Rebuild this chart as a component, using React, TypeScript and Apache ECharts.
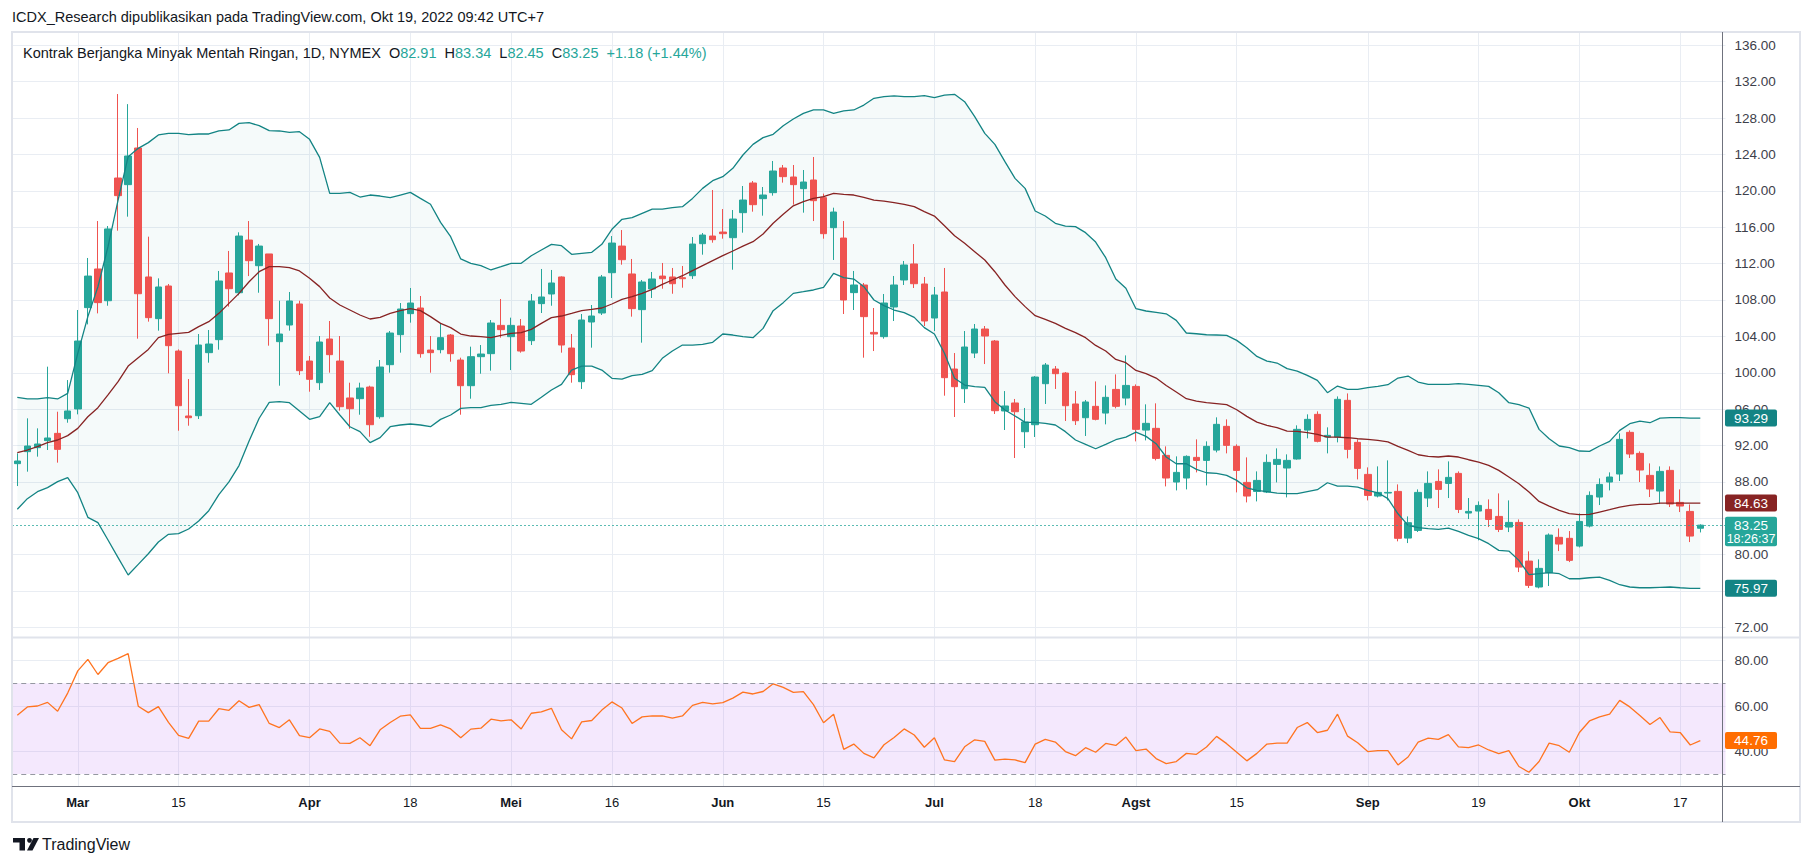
import React, { useEffect, useRef } from "react";
import * as echarts from "echarts";

// ---------------- data ----------------
const opens = [
  90.01, 91.33, 91.77, 92.54, 93.34, 94.95, 96.02, 107.16, 111.41, 107.92,
  121.41, 120.68, 124.71, 110.53, 105.95, 109.54, 102.39, 95.25, 95.28, 102.21,
  103.64, 110.97, 108.8, 114.59, 111.77, 113.06, 103.42, 105.25, 107.56, 101.29,
  98.91, 103.71, 101.29, 97.23, 97.15, 98.43, 95.17, 100.89, 104.19, 106.5,
  107.12, 102.5, 102.54, 104.15, 101.4, 98.58, 101.77, 102.1, 105.21, 103.97,
  105.14, 103.53, 107.6, 108.66, 110.53, 102.72, 99.02, 105.58, 106.57, 111.0,
  113.93, 110.86, 106.94, 109.21, 110.63, 110.53, 110.45, 110.67, 114.19, 115.03,
  115.47, 114.85, 117.6, 120.86, 119.14, 119.8, 122.51, 121.52, 120.24, 121.19,
  119.25, 115.95, 114.81, 108.81, 109.65, 104.44, 103.97, 107.23, 110.2, 111.96,
  109.76, 106.02, 108.88, 100.41, 98.25, 102.17, 104.81, 103.49, 95.8, 96.68,
  93.52, 94.29, 98.8, 100.41, 99.97, 96.57, 95.06, 96.31, 95.57, 98.17,
  97.22, 98.5, 93.7, 93.89, 90.92, 87.99, 88.43, 90.7, 90.37, 91.5,
  94.11, 91.91, 87.95, 86.96, 86.89, 89.93, 89.53, 90.52, 93.7, 95.43,
  92.93, 92.93, 96.97, 92.35, 88.83, 86.45, 86.78, 86.96, 81.83, 82.67,
  86.23, 88.06, 87.84, 88.94, 84.58, 84.8, 84.98, 84.21, 83.04, 83.55,
  79.3, 76.45, 78.02, 81.91, 81.8, 80.95, 83.15, 86.34, 87.99, 88.87,
  93.45, 91.14, 88.72, 87.0, 89.27, 85.75, 84.76, 82.91,
];
const highs = [
  91.14, 94.99, 93.89, 100.67, 95.72, 99.2, 106.9, 112.62, 116.68, 116.13,
  130.64, 129.53, 126.91, 114.96, 110.38, 109.76, 102.57, 99.31, 104.26, 104.7,
  111.19, 113.39, 115.44, 116.68, 114.16, 113.06, 107.92, 108.88, 107.92, 101.84,
  104.04, 105.69, 104.04, 98.91, 98.91, 98.58, 101.4, 104.59, 107.67, 109.32,
  108.44, 104.04, 105.43, 104.26, 101.66, 102.87, 103.05, 105.8, 108.11, 106.06,
  105.91, 108.66, 111.41, 111.3, 110.6, 104.26, 106.46, 107.45, 110.75, 115.03,
  115.69, 112.51, 110.2, 111.08, 112.07, 111.52, 111.74, 114.92, 115.36, 120.09,
  118.0, 117.89, 120.53, 121.08, 120.42, 123.28, 122.84, 122.84, 122.29, 123.72,
  119.69, 118.15, 116.68, 111.19, 109.87, 107.12, 108.66, 110.64, 112.29, 114.15,
  110.53, 109.43, 111.52, 102.17, 104.59, 105.36, 105.14, 103.6, 97.99, 97.12,
  96.13, 99.64, 101.07, 100.74, 100.08, 97.99, 97.01, 99.05, 98.61, 99.82,
  101.91, 98.72, 96.53, 96.64, 91.91, 90.81, 90.92, 92.68, 92.46, 95.1,
  94.88, 92.13, 90.7, 89.16, 91.03, 91.69, 91.03, 94.22, 95.43, 95.76,
  94.0, 97.4, 97.73, 92.68, 89.6, 89.71, 90.37, 87.73, 84.21, 87.18,
  89.16, 89.38, 90.26, 89.16, 86.23, 85.86, 86.08, 86.74, 85.97, 83.88,
  80.37, 79.49, 82.34, 82.89, 82.6, 84.54, 86.96, 88.39, 89.05, 93.34,
  93.67, 91.36, 90.04, 89.71, 89.71, 87.18, 85.53, 83.34,
];
const lows = [
  87.55, 89.13, 90.78, 91.51, 90.12, 94.51, 95.43, 105.32, 106.53, 107.37,
  115.62, 117.16, 103.75, 105.62, 104.63, 99.94, 93.63, 94.18, 94.92, 101.11,
  102.54, 107.27, 108.51, 110.63, 108.8, 102.98, 98.58, 104.63, 99.75, 97.92,
  98.11, 100.01, 95.83, 93.85, 95.39, 92.97, 94.95, 100.01, 102.21, 105.51,
  101.66, 100.01, 102.14, 101.22, 95.39, 97.15, 99.9, 100.23, 103.86, 100.3,
  102.21, 103.05, 106.57, 107.37, 102.21, 98.91, 98.22, 102.76, 106.35, 108.22,
  111.88, 106.17, 103.31, 108.22, 109.24, 108.69, 109.35, 110.31, 112.98, 114.3,
  114.74, 111.33, 115.4, 117.71, 117.27, 119.47, 120.9, 118.48, 117.6, 116.68,
  114.74, 112.4, 106.46, 106.9, 101.66, 102.39, 103.75, 105.69, 109.65, 109.32,
  105.14, 104.59, 97.48, 95.14, 96.68, 101.62, 100.96, 95.47, 93.71, 90.63,
  91.73, 92.94, 96.57, 98.22, 94.7, 94.26, 93.05, 94.77, 94.33, 96.09,
  96.42, 92.46, 92.57, 90.37, 87.51, 87.07, 87.18, 89.05, 87.62, 91.25,
  91.14, 86.85, 85.75, 85.86, 86.78, 87.95, 86.3, 90.45, 92.79, 92.35,
  91.14, 92.35, 90.59, 88.28, 85.97, 86.3, 85.97, 81.47, 81.28, 82.5,
  85.24, 85.13, 86.23, 84.58, 83.92, 81.58, 83.04, 82.49, 82.49, 78.09,
  76.34, 76.3, 76.56, 80.4, 79.19, 80.8, 83.0, 85.46, 87.07, 88.1,
  90.63, 87.99, 86.34, 85.57, 85.24, 84.69, 81.39, 82.45,
];
const closes = [
  90.3, 91.95, 92.17, 92.83, 91.58, 95.8, 103.49, 110.63, 107.71, 115.81,
  119.47, 123.83, 108.69, 106.06, 109.43, 102.98, 96.38, 95.06, 103.05, 103.16,
  110.09, 109.24, 115.03, 112.32, 113.93, 105.95, 104.26, 107.89, 100.23, 99.28,
  103.38, 101.99, 96.27, 96.05, 98.32, 94.29, 100.63, 104.37, 107.01, 107.67,
  102.1, 102.21, 103.86, 102.1, 98.58, 101.77, 102.06, 105.47, 104.74, 105.21,
  102.39, 107.89, 108.33, 109.87, 103.05, 99.79, 105.8, 106.24, 110.53, 114.26,
  112.43, 107.05, 109.98, 110.31, 110.34, 109.79, 110.34, 114.15, 115.14, 114.63,
  115.29, 116.9, 118.99, 118.48, 119.54, 122.18, 121.56, 120.68, 120.97, 118.92,
  115.29, 117.67, 108.0, 109.65, 106.17, 104.26, 107.67, 109.65, 111.85, 109.79,
  105.69, 108.55, 99.46, 98.47, 102.83, 104.81, 104.04, 95.83, 96.35, 95.72,
  94.59, 99.53, 100.85, 99.9, 96.38, 94.73, 96.79, 94.88, 97.3, 96.31,
  98.61, 93.78, 94.44, 90.59, 88.43, 89.05, 90.81, 90.37, 91.91, 94.33,
  92.02, 89.27, 86.45, 88.17, 90.15, 90.48, 90.37, 93.78, 94.88, 92.46,
  93.12, 97.08, 91.58, 89.49, 86.52, 86.85, 86.85, 81.8, 83.52, 86.85,
  87.84, 87.18, 88.5, 84.98, 84.76, 85.42, 83.88, 82.78, 83.55, 78.64,
  76.63, 78.5, 82.16, 81.17, 79.38, 83.66, 86.52, 87.73, 88.54, 92.68,
  91.07, 89.31, 87.22, 89.16, 85.57, 85.35, 82.05, 83.25,
];
const bbUpper = [
  97.3, 97.12, 97.12, 97.26, 97.12, 97.74, 102.14, 106.17, 109.46, 113.86,
  118.99, 123.76, 124.67, 125.3, 126.14, 126.32, 126.32, 126.17, 126.25, 126.25,
  126.58, 126.69, 127.42, 127.49, 127.16, 126.61, 126.58, 126.43, 126.5, 125.66,
  123.68, 119.72, 119.72, 119.83, 119.32, 119.54, 119.43, 119.25, 119.54, 119.83,
  119.17, 118.52, 116.54, 114.96, 112.51, 112.03, 111.77, 111.3, 111.66, 112.03,
  112.03, 112.87, 113.5, 114.12, 113.97, 113.02, 113.13, 113.24, 114.12, 115.77,
  116.87, 117.05, 117.53, 118.0, 118.0, 118.15, 118.26, 119.17, 120.27, 121.12,
  121.56, 122.47, 123.94, 125.11, 125.85, 126.21, 127.16, 127.9, 128.52, 128.89,
  128.89, 128.52, 128.78, 128.89, 129.43, 130.17, 130.35, 130.43, 130.35, 130.35,
  130.46, 130.24, 130.53, 130.61, 129.8, 128.15, 126.32, 125.11, 123.21, 121.37,
  120.27, 117.78, 117.23, 116.43, 116.13, 116.06, 115.4, 114.37, 112.65, 110.3,
  109.29, 107.04, 106.79, 106.64, 106.48, 105.76, 104.37, 104.29, 104.18, 104.15,
  104.11, 103.56, 102.75, 101.8, 101.29, 101.07, 100.45, 100.19, 99.71, 99.16,
  97.81, 98.54, 98.17, 98.17, 98.36, 98.5, 98.69, 99.42, 99.64, 98.98,
  98.72, 98.72, 98.72, 98.8, 98.72, 98.61, 98.5, 97.81, 96.71, 96.49,
  96.12, 93.78, 92.75, 91.95, 91.76, 91.4, 91.36, 91.95, 92.46, 93.67,
  94.4, 94.69, 94.51, 95.02, 95.06, 95.06, 95.02, 95.02,
];
const bbBasis = [
  91.22, 91.51, 91.88, 92.32, 92.61, 93.09, 93.89, 95.17, 96.16, 97.56,
  99.02, 100.74, 101.66, 102.57, 103.86, 104.22, 104.33, 104.44, 105.07, 105.62,
  106.53, 107.63, 108.73, 110.01, 111.11, 111.66, 111.66, 111.55, 111.19, 110.38,
  109.47, 108.22, 107.45, 106.9, 106.35, 105.91, 106.09, 106.53, 106.83, 107.05,
  106.83, 106.17, 105.43, 104.96, 104.26, 104.04, 103.97, 103.86, 104.11, 104.33,
  104.41, 104.77, 105.43, 106.06, 106.24, 106.53, 106.83, 106.97, 107.12, 107.56,
  108.07, 108.37, 108.73, 109.17, 109.72, 110.2, 110.67, 111.22, 111.77, 112.32,
  112.87, 113.39, 113.93, 114.41, 115.25, 116.43, 117.42, 118.35, 118.81, 119.18,
  119.36, 119.72, 119.61, 119.54, 119.29, 118.99, 118.88, 118.7, 118.52, 118.26,
  117.71, 117.23, 116.17, 115.07, 114.23, 113.31, 112.4, 111.11, 109.65, 108.37,
  107.27, 106.28, 105.87, 105.43, 104.88, 104.41, 103.86, 103.01, 102.39, 101.47,
  101.11, 100.26, 99.9, 99.42, 98.61, 97.88, 97.15, 96.89, 96.71, 96.6,
  96.49, 95.94, 95.21, 94.58, 94.22, 93.96, 93.59, 93.56, 93.41, 93.23,
  92.93, 92.93, 92.86, 92.75, 92.68, 92.57, 92.41, 91.9, 91.47, 90.99,
  90.81, 90.74, 90.85, 90.74, 90.44, 90.19, 89.82, 89.27, 88.54, 87.8,
  86.89, 85.86, 85.35, 84.87, 84.51, 84.4, 84.43, 84.69, 84.95, 85.24,
  85.42, 85.53, 85.53, 85.68, 85.68, 85.68, 85.68, 85.68,
];
const bbLower = [
  84.99, 86.16, 86.93, 87.37, 88.03, 88.47, 86.82, 84.11, 83.52, 81.62,
  79.68, 77.77, 78.94, 80.11, 81.4, 82.24, 82.31, 82.83, 83.71, 84.84,
  86.6, 88.0, 89.8, 92.5, 95.0, 96.75, 96.82, 96.71, 95.8, 94.88,
  95.17, 96.71, 95.36, 94.07, 93.53, 92.32, 92.87, 94.07, 94.26, 94.37,
  94.26, 94.07, 94.88, 95.36, 96.09, 96.16, 96.16, 96.42, 96.53, 96.75,
  96.64, 96.53, 97.3, 98.11, 98.73, 100.3, 100.74, 100.74, 100.3, 99.39,
  99.31, 99.68, 99.83, 100.23, 101.59, 102.39, 103.05, 103.05, 103.13, 103.35,
  104.26, 104.15, 103.97, 103.86, 104.88, 106.83, 107.71, 108.73, 108.91, 109.1,
  109.39, 110.93, 110.45, 110.3, 109.46, 108.0, 107.38, 106.9, 106.61, 106.09,
  104.96, 104.26, 102.14, 99.39, 98.65, 98.47, 98.4, 96.82, 95.91, 95.25,
  94.55, 94.55, 94.44, 94.26, 93.53, 92.61, 92.13, 91.65, 92.13, 92.64,
  92.93, 93.48, 93.01, 92.2, 90.74, 90.0, 90.0, 89.38, 89.01, 88.94,
  88.72, 88.17, 87.36, 87.07, 86.93, 86.78, 86.71, 86.71, 86.93, 87.15,
  87.91, 87.55, 87.55, 87.44, 87.07, 86.81, 86.16, 84.5, 83.22, 82.97,
  82.86, 82.78, 82.93, 82.56, 82.12, 81.76, 81.21, 80.48, 80.4, 79.38,
  77.8, 77.91, 78.02, 77.91, 77.36, 77.36, 77.47, 77.54, 77.18, 76.7,
  76.45, 76.37, 76.37, 76.41, 76.45, 76.37, 76.3, 76.3,
];
const rsiValues = [
  55.9, 59.6, 60.0, 61.6, 57.7, 65.7, 75.5, 80.6, 73.9, 79.1,
  81.0, 83.1, 59.9, 57.1, 59.7, 52.8, 47.0, 45.7, 53.3, 53.3,
  58.8, 58.1, 62.3, 59.4, 60.6, 52.3, 50.5, 53.9, 46.9, 46.0,
  49.9, 48.8, 43.6, 43.5, 46.0, 42.5, 49.5, 52.7, 55.5, 56.1,
  50.1, 50.1, 51.7, 49.9, 46.0, 49.8, 50.2, 54.2, 53.4, 53.9,
  49.9, 56.8, 57.4, 59.0, 49.5, 45.5, 53.0, 53.6, 58.2, 61.8,
  59.1, 52.3, 55.2, 55.6, 55.6, 54.7, 55.6, 60.3, 61.6, 60.9,
  61.5, 63.5, 66.1, 65.3, 66.4, 69.8, 68.2, 66.0, 66.3, 60.6,
  52.6, 56.4, 40.9, 43.2, 39.1, 37.1, 42.9, 46.1, 49.9, 47.2,
  41.8, 46.0, 36.2, 35.5, 42.0, 45.1, 44.4, 36.1, 36.6, 36.2,
  35.0, 43.2, 45.3, 44.1, 39.9, 38.1, 41.6, 39.6, 43.5, 42.6,
  46.3, 40.3, 41.0, 36.8, 34.6, 35.5, 39.1, 38.7, 41.9, 46.6,
  43.4, 39.6, 35.8, 39.1, 43.2, 43.6, 43.6, 50.5, 52.7, 48.3,
  49.3, 56.4, 46.7, 43.8, 39.9, 40.3, 40.3, 34.0, 37.5, 44.1,
  45.8, 45.3, 47.4, 42.0, 41.6, 42.8, 40.6, 39.0, 40.3, 33.3,
  30.8, 35.5, 43.6, 42.5, 39.6, 48.3, 53.4, 55.2, 56.4, 62.5,
  59.6, 55.8, 51.8, 54.9, 48.6, 48.3, 42.8, 44.76,
];

// axis ticks
const priceAxisMin = 72;
const priceAxisMax = 136;
const priceAxisStep = 4;
const rsiAxisMin = 40;
const rsiAxisMax = 80;
const rsiAxisStep = 20;
const rsiBandHigh = 70;
const rsiBandLow = 30;

// time axis labels (bar index -> text)
const timeTickIndex = [6, 16, 29, 39, 49, 59, 70, 80, 91, 101, 111, 121, 134, 145, 155, 165];
const timeTickText = ["Mar", "15", "Apr", "18", "Mei", "16", "Jun", "15", "Jul", "18", "Agst", "15", "Sep", "19", "Okt", "17"];
const monthNames = ["Mar", "Apr", "Mei", "Jun", "Jul", "Agst", "Sep", "Okt"];

// texts
const headerLine = "ICDX_Research dipublikasikan pada TradingView.com, Okt 19, 2022 09:42 UTC+7";
const symbolTitle = "Kontrak Berjangka Minyak Mentah Ringan, 1D, NYMEX";
const ohlcLegend = { o: "82.91", h: "83.34", l: "82.45", c: "83.25", change: "+1.18 (+1.44%)" };
const lastValueLabels = {
  bbUpper: "93.29",
  bbBasis: "84.63",
  bbLower: "75.97",
  close: "83.25",
  countdown: "18:26:37",
  rsi: "44.76",
};

// ---------------- layout / style ----------------
const W = 1813;
const H = 866;
const FONT = "'Liberation Sans', Arial, sans-serif";
const BAR = 10.078;
const SLOT_COUNT = 170; // bars + empty right margin
const PLOT_LEFT = 12.26;
const PLOT_W = SLOT_COUNT * BAR;
const PX_PER_PRICE = 9.097;
const Y_AT_132 = 81.67;
const MAIN_TOP = Y_AT_132 - (priceAxisMax - 132) * PX_PER_PRICE;
const MAIN_H = (priceAxisMax - priceAxisMin) * PX_PER_PRICE;
const RSI_PX = 2.2667;
const RSI_Y80 = 660.67;
const RSI_TOP = RSI_Y80 - (rsiAxisMax - 80) * RSI_PX;
const RSI_H = (rsiAxisMax - rsiAxisMin) * RSI_PX;
const FRAME_TOP = 32;
const FRAME_LEFT = 12;
const FRAME_RIGHT = 1800;
const FRAME_BOTTOM = 822;
const PANE_SEP_Y = 637;
const TIME_AXIS_Y = 786;
const SCALE_X = 1722;
const RSI_PANE_MAX = 80 + (RSI_Y80 - PANE_SEP_Y) / RSI_PX;
const RSI_PANE_MIN = 40 - (TIME_AXIS_Y - (RSI_Y80 + 40 * RSI_PX)) / RSI_PX;
const BOX_X = 1725;
const BOX_W = 52;

const GRID_COLOR = "#e9edf3";
const TEXT = "#131722";
const SCALE_TEXT = "#3d404a";
const UP = "#26a69a";
const DOWN = "#ef5350";
const BB_EDGE = "#138484";
const BB_MID = "#872323";
const RSI_COLOR = "#ff7420";

const CATS = Array.from({ length: SLOT_COUNT }, (_, i) => String(i));

function buildOption(): any {
  const candleData = opens.map((o, i) => [o, closes[i], lows[i], highs[i]]);
  const bandWidthData = bbUpper.map((u, i) => +(u - bbLower[i]).toFixed(2));
  const showTick = (i: number) => timeTickIndex.indexOf(i) >= 0;
  const hiddenX = (g: number) => ({ gridIndex: g, type: "category", data: CATS, boundaryGap: true, show: false });
  const scaleLabel = {
    margin: 9,
    color: SCALE_TEXT,
    fontSize: 13.5,
    fontFamily: FONT,
    showMinLabel: true,
    showMaxLabel: true,
    formatter: (v: number) => v.toFixed(2),
  };
  return {
    animation: false,
    backgroundColor: "#ffffff",
    title: [
      {
        text: headerLine,
        left: 12,
        top: 8,
        padding: 0,
        textStyle: { color: TEXT, fontSize: 14.5, fontWeight: "normal", fontFamily: FONT, lineHeight: 18 },
      },
      {
        text:
          `{t|${symbolTitle}  O}{v|${ohlcLegend.o}}{t|  H}{v|${ohlcLegend.h}}{t|  L}{v|${ohlcLegend.l}}` +
          `{t|  C}{v|${ohlcLegend.c}}{v|  ${ohlcLegend.change}}`,
        left: 23,
        top: 44,
        padding: 0,
        textStyle: {
          fontSize: 14.5,
          fontWeight: "normal",
          fontFamily: FONT,
          lineHeight: 18,
          rich: {
            t: { color: TEXT, fontSize: 14.5, fontWeight: "normal", fontFamily: FONT, lineHeight: 18 },
            v: { color: UP, fontSize: 14.5, fontWeight: "normal", fontFamily: FONT, lineHeight: 18 },
          },
        },
      },
    ],
    grid: [
      { left: PLOT_LEFT + BAR / 2, width: (SLOT_COUNT - 1) * BAR, top: FRAME_TOP, height: TIME_AXIS_Y - FRAME_TOP },
      { left: PLOT_LEFT, width: PLOT_W, top: MAIN_TOP, height: MAIN_H },
      { left: PLOT_LEFT, width: PLOT_W, top: RSI_TOP, height: RSI_H },
      { left: PLOT_LEFT, width: PLOT_W, top: PANE_SEP_Y, height: TIME_AXIS_Y - PANE_SEP_Y },
    ],
    xAxis: [
      {
        gridIndex: 0,
        type: "category",
        data: CATS,
        boundaryGap: false,
        axisLine: { show: false },
        axisTick: { show: false },
        axisLabel: {
          interval: (i: number) => showTick(i),
          margin: 10,
          color: TEXT,
          fontSize: 13,
          fontFamily: FONT,
          formatter: (_v: string, i: number) => {
            const k = timeTickIndex.indexOf(i);
            if (k < 0) return "";
            const t = timeTickText[k];
            return monthNames.indexOf(t) >= 0 ? `{m|${t}}` : `{d|${t}}`;
          },
          rich: {
            m: { color: TEXT, fontSize: 13, fontFamily: FONT, fontWeight: "bold" },
            d: { color: TEXT, fontSize: 13, fontFamily: FONT },
          },
        },
        splitLine: { show: true, interval: (i: number) => showTick(i), lineStyle: { color: GRID_COLOR, width: 1 } },
      },
      hiddenX(1),
      hiddenX(2),
      hiddenX(3),
    ],
    yAxis: [
      { gridIndex: 0, type: "value", min: 0, max: 1, show: false },
      {
        gridIndex: 1,
        type: "value",
        position: "right",
        min: priceAxisMin,
        max: priceAxisMax,
        interval: priceAxisStep,
        axisLine: { show: false },
        axisTick: { show: false },
        axisLabel: scaleLabel,
        splitLine: { show: true, lineStyle: { color: GRID_COLOR, width: 1 } },
      },
      {
        gridIndex: 2,
        type: "value",
        position: "right",
        min: rsiAxisMin,
        max: rsiAxisMax,
        interval: rsiAxisStep,
        axisLine: { show: false },
        axisTick: { show: false },
        axisLabel: scaleLabel,
        splitLine: { show: true, lineStyle: { color: GRID_COLOR, width: 1 } },
      },
      { gridIndex: 3, type: "value", min: RSI_PANE_MIN, max: RSI_PANE_MAX, show: false },
    ],
    series: [
      {
        name: "bbBase",
        type: "line",
        xAxisIndex: 1,
        yAxisIndex: 1,
        data: bbLower,
        stack: "bb",
        symbol: "none",
        silent: true,
        lineStyle: { opacity: 0 },
        z: 1,
      },
      {
        name: "bbFill",
        type: "line",
        xAxisIndex: 1,
        yAxisIndex: 1,
        data: bandWidthData,
        stack: "bb",
        symbol: "none",
        silent: true,
        lineStyle: { opacity: 0 },
        areaStyle: { color: "rgba(25,140,140,0.06)" },
        z: 1,
      },
      {
        name: "price",
        type: "candlestick",
        xAxisIndex: 1,
        yAxisIndex: 1,
        data: candleData,
        barWidth: 7,
        itemStyle: { color: UP, color0: DOWN, borderColor: UP, borderColor0: DOWN, borderWidth: 1 },
        z: 3,
        markLine: {
          silent: true,
          symbol: ["none", "none"],
          label: { show: false },
          lineStyle: { color: UP, type: [1.5, 2.5], width: 1 },
          data: [{ yAxis: closes[closes.length - 1] }],
        },
      },
      {
        name: "bbUpper",
        type: "line",
        xAxisIndex: 1,
        yAxisIndex: 1,
        data: bbUpper,
        symbol: "none",
        silent: true,
        lineStyle: { color: BB_EDGE, width: 1.3 },
        z: 4,
      },
      {
        name: "bbBasis",
        type: "line",
        xAxisIndex: 1,
        yAxisIndex: 1,
        data: bbBasis,
        symbol: "none",
        silent: true,
        lineStyle: { color: BB_MID, width: 1.3 },
        z: 4,
      },
      {
        name: "bbLower",
        type: "line",
        xAxisIndex: 1,
        yAxisIndex: 1,
        data: bbLower,
        symbol: "none",
        silent: true,
        lineStyle: { color: BB_EDGE, width: 1.3 },
        z: 4,
      },
      {
        name: "rsi",
        type: "line",
        xAxisIndex: 3,
        yAxisIndex: 3,
        data: rsiValues,
        symbol: "none",
        silent: true,
        lineStyle: { color: RSI_COLOR, width: 1.3 },
        z: 4,
        markArea: {
          silent: true,
          itemStyle: { color: "rgba(180,100,240,0.15)" },
          data: [[{ yAxis: rsiBandHigh }, { yAxis: rsiBandLow }]],
        },
        markLine: {
          silent: true,
          symbol: ["none", "none"],
          label: { show: false },
          lineStyle: { color: "#9598a1", type: [5, 4], width: 1 },
          data: [{ yAxis: rsiBandHigh }, { yAxis: rsiBandLow }],
        },
      },
    ],
  };
}

function textEl(x: number, y: number, text: string, o: any = {}) {
  return {
    type: "text",
    x,
    y,
    silent: true,
    z: o.z ?? 100,
    style: {
      text,
      fill: o.fill ?? TEXT,
      fontSize: o.size ?? 13,
      fontFamily: FONT,
      fontWeight: o.weight ?? "normal",
      align: o.align ?? "left",
      verticalAlign: "middle",
      textAlign: o.align ?? "left",
      textVerticalAlign: "middle",
    },
  };
}

type Box = { top: number; bottom: number };

function valueBox(yc: number, text: string, bg: string, boxes: Box[], sub?: string) {
  const h = sub ? 29.5 : 17;
  boxes.push({ top: yc - 8.5, bottom: yc - 8.5 + h });
  const els: any[] = [
    {
      type: "rect",
      silent: true,
      z: 99,
      shape: { x: BOX_X, y: yc - 8.5, width: BOX_W, height: h, r: 2 },
      style: { fill: bg },
    },
    textEl(BOX_X + BOX_W / 2, yc, text, { fill: "#ffffff", size: 13.5, align: "center" }),
  ];
  if (sub) els.push(textEl(BOX_X + BOX_W / 2, yc + 13.5, sub, { fill: "#ffffff", size: 12.5, align: "center" }));
  return els;
}

export default function App() {
  const ref = useRef<HTMLDivElement>(null);
  useEffect(() => {
    const el = ref.current;
    if (!el) return;
    const chart = echarts.init(el, null, { renderer: "svg" });
    chart.setOption(buildOption());
    const last = closes.length - 1;
    const py = (v: number) => chart.convertToPixel({ yAxisIndex: 1 }, v) as number;
    const ry = (v: number) => chart.convertToPixel({ yAxisIndex: 3 }, v) as number;

    const stroke = "#6f727d";
    const graphics: any[] = [
      {
        type: "rect",
        silent: true,
        z: 90,
        shape: { x: FRAME_LEFT, y: FRAME_TOP, width: FRAME_RIGHT - FRAME_LEFT, height: FRAME_BOTTOM - FRAME_TOP },
        style: { fill: "none", stroke: "#e0e3eb", lineWidth: 2 },
      },
      {
        type: "line",
        silent: true,
        z: 91,
        shape: { x1: FRAME_LEFT, y1: PANE_SEP_Y + 0.5, x2: FRAME_RIGHT, y2: PANE_SEP_Y + 0.5 },
        style: { stroke: "#e0e3eb", lineWidth: 2 },
      },
      {
        type: "line",
        silent: true,
        z: 92,
        shape: { x1: SCALE_X + 0.5, y1: FRAME_TOP, x2: SCALE_X + 0.5, y2: FRAME_BOTTOM },
        style: { stroke, lineWidth: 1 },
      },
      {
        type: "line",
        silent: true,
        z: 92,
        shape: { x1: FRAME_LEFT, y1: TIME_AXIS_Y + 0.5, x2: FRAME_RIGHT, y2: TIME_AXIS_Y + 0.5 },
        style: { stroke, lineWidth: 1 },
      },
      // TradingView logo
      { type: "rect", silent: true, z: 100, shape: { x: 13, y: 838, width: 12, height: 4.5 }, style: { fill: TEXT } },
      { type: "rect", silent: true, z: 100, shape: { x: 19.5, y: 838, width: 5.5, height: 12.5 }, style: { fill: TEXT } },
      { type: "circle", silent: true, z: 100, shape: { cx: 29.5, cy: 840.3, r: 2.4 }, style: { fill: TEXT } },
      {
        type: "polygon",
        silent: true,
        z: 100,
        shape: { points: [[27, 850.5], [33.5, 838], [39, 838], [32.5, 850.5]] },
        style: { fill: TEXT },
      },
      textEl(42, 844.5, "TradingView", { size: 16 }),
    ];
    const priceBoxes: Box[] = [];
    const rsiBoxes: Box[] = [];
    graphics.push(...valueBox(py(bbUpper[last]), lastValueLabels.bbUpper, BB_EDGE, priceBoxes));
    graphics.push(...valueBox(py(bbBasis[last]), lastValueLabels.bbBasis, BB_MID, priceBoxes));
    graphics.push(...valueBox(py(closes[last]), lastValueLabels.close, UP, priceBoxes, lastValueLabels.countdown));
    graphics.push(...valueBox(py(bbLower[last]), lastValueLabels.bbLower, BB_EDGE, priceBoxes));
    graphics.push(...valueBox(ry(rsiValues[last]), lastValueLabels.rsi, "#ff6d00", rsiBoxes));

    // scale labels whose centre sits under a value box are hidden (as on the reference)
    const covered = (y: number, boxes: Box[]) => boxes.some((b) => y >= b.top && y <= b.bottom);
    chart.setOption({
      graphic: graphics,
      yAxis: [
        {},
        { axisLabel: { formatter: (v: number) => (covered(py(v), priceBoxes) ? "" : v.toFixed(2)) } },
        {},
        {},
      ],
    });
    return () => chart.dispose();
  }, []);
  return (
    <div
      ref={ref}
      style={{ position: "fixed", left: 0, top: 0, width: W, height: H, background: "#ffffff" }}
    />
  );
}
